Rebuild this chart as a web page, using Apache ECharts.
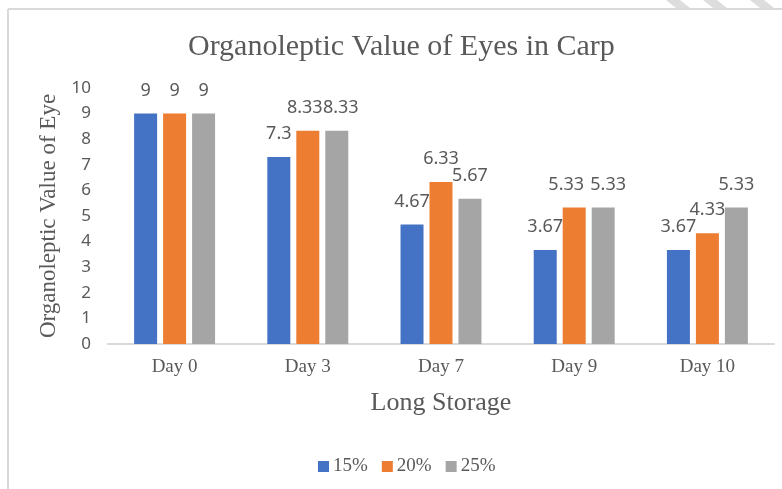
<!DOCTYPE html>
<html>
<head>
    <meta charset="utf-8">
    <title>Organoleptic Value of Eyes in Carp</title>
    <script src="https://cdn.jsdelivr.net/npm/echarts@6/dist/echarts.min.js"></script>
    <style>
        html, body { margin: 0; padding: 0; background: #fff; }
    </style>
</head>
<body>
    <div id="chartmain" style="width:782px; height:489px;"></div>

    <script type="text/javascript">
        // 数据
        var days = ['Day 0', 'Day 3', 'Day 7', 'Day 9', 'Day 10'];
        var seriesNames = ['15%', '20%', '25%'];
        var val15 = [9, 7.3, 4.67, 3.67, 3.67];
        var val20 = [9, 8.33, 6.33, 5.33, 4.33];
        var val25 = [9, 8.33, 5.67, 5.33, 5.33];
        var colors = ['#4472C4', '#ED7D31', '#A5A5A5'];

        // 标签水平偏移 (像 Excel 那样把挤在一起的标签错开)
        var labelShift = { '1-1': -3, '2-1': 4, '1-3': -8, '2-3': 5 };

        var serif = '"Liberation Serif", "DejaVu Serif", serif';
        var sans = '"Noto Sans", "Liberation Sans", sans-serif';

        var myChart = echarts.init(document.getElementById('chartmain'));

        function makeSeries(idx, name, data, color) {
            return {
                name: name,
                type: 'bar',
                data: data.map(function (v, i) {
                    var dx = labelShift[idx + '-' + i] || 0;
                    return { value: v, label: { offset: [dx, 0] } };
                }),
                barWidth: 23,
                barGap: '26%',
                itemStyle: { color: color },
                label: {
                    show: true,
                    position: 'top',
                    distance: 14,
                    color: '#595959',
                    fontFamily: sans,
                    fontSize: 18
                }
            };
        }

        myChart.setOption({
            animation: false,
            backgroundColor: '#fff',
            title: {
                text: 'Organoleptic Value of Eyes in Carp',
                left: 183,
                top: 27,
                textStyle: {
                    fontFamily: serif,
                    fontWeight: 'normal',
                    fontSize: 30,
                    color: '#595959'
                }
            },
            legend: {
                data: seriesNames,
                left: 313,
                top: 452,
                itemWidth: 11,
                itemHeight: 11,
                itemGap: 14,
                icon: 'rect',
                textStyle: {
                    fontFamily: serif,
                    fontSize: 19,
                    color: '#595959',
                    padding: [0, 0, 0, -1]
                }
            },
            grid: {
                left: 108,
                right: 8,
                top: 88,
                bottom: 145
            },
            xAxis: {
                type: 'category',
                data: days,
                name: 'Long Storage',
                nameLocation: 'middle',
                nameGap: 46,
                nameTextStyle: {
                    fontFamily: serif,
                    fontSize: 26,
                    color: '#595959'
                },
                axisLine: { lineStyle: { color: '#D9D9D9', width: 2 } },
                axisTick: { show: false },
                axisLabel: {
                    margin: 14,
                    fontFamily: serif,
                    fontSize: 19,
                    color: '#595959'
                }
            },
            yAxis: {
                type: 'value',
                min: 0,
                max: 10,
                interval: 1,
                name: 'Organoleptic Value of Eye',
                nameLocation: 'middle',
                nameGap: 48,
                nameTextStyle: {
                    fontFamily: serif,
                    fontSize: 23,
                    color: '#595959'
                },
                splitLine: { show: false },
                axisLine: { show: false },
                axisTick: { show: false },
                axisLabel: {
                    margin: 17,
                    fontFamily: sans,
                    fontSize: 17,
                    color: '#595959'
                }
            },
            series: [
                makeSeries(0, seriesNames[0], val15, colors[0]),
                makeSeries(1, seriesNames[1], val20, colors[1]),
                makeSeries(2, seriesNames[2], val25, colors[2])
            ],
            // 外框和右上角的斜纹
            graphic: [
                { type: 'line', shape: { x1: 8, y1: 9, x2: 782, y2: 9 }, style: { stroke: '#D9D9D9', lineWidth: 2 } },
                { type: 'line', shape: { x1: 8, y1: 9, x2: 8, y2: 489 }, style: { stroke: '#D9D9D9', lineWidth: 2 } },
                { type: 'polygon', shape: { points: [[666, 0], [680, 0], [690, 8], [676, 8]] }, style: { fill: '#DDDDDD' } },
                { type: 'polygon', shape: { points: [[703, 0], [717, 0], [727, 8], [713, 8]] }, style: { fill: '#DDDDDD' } },
                { type: 'polygon', shape: { points: [[750, 0], [764, 0], [774, 8], [760, 8]] }, style: { fill: '#DDDDDD' } }
            ]
        });
    </script>
</body>
</html>
